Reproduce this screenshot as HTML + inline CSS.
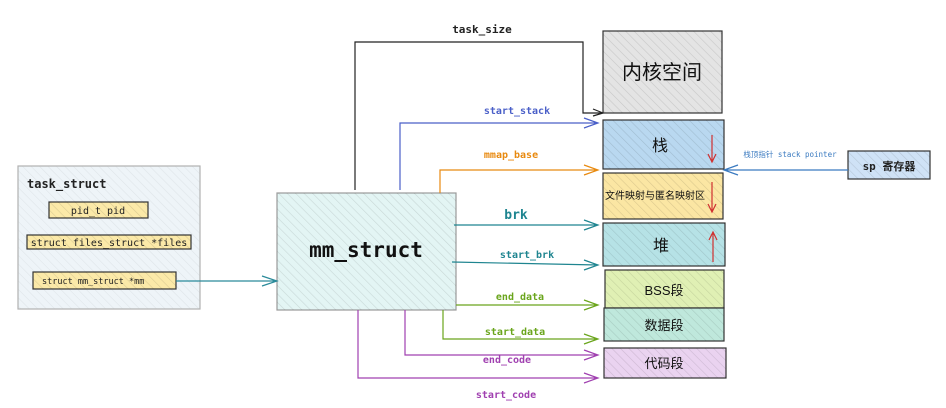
<!DOCTYPE html>
<html><head><meta charset="utf-8"><style>body{margin:0;background:#fff}svg{display:block}</style></head><body>
<svg width="946" height="408" xmlns="http://www.w3.org/2000/svg" font-family="'DejaVu Sans Mono','Liberation Mono','Noto Sans CJK SC',monospace">
<defs>
<pattern id="h" width="6" height="6" patternUnits="userSpaceOnUse" patternTransform="rotate(-45)"><line x1="0" y1="0" x2="0" y2="6" stroke="#000" stroke-width="1.2"/></pattern>
</defs>
<g stroke="#333" stroke-width="1.2">
<rect x="18" y="166" width="182" height="143" fill="#eef4f8" stroke="#bbb"/>
<rect x="18" y="166" width="182" height="143" fill="url(#h)" opacity="0.06"/>
<rect x="49" y="202" width="99" height="16" fill="#fbe9a8"/>
<rect x="27" y="235" width="164" height="14" fill="#fbe9a8"/>
<rect x="33" y="272" width="143" height="17" fill="#fbe9a8"/>
<rect x="277" y="193" width="179" height="117" fill="#e3f5f4" stroke="#999"/>
<rect x="603" y="31" width="119" height="82" fill="#e4e4e4"/>
<rect x="603" y="120" width="121" height="49" fill="#b9d8f0"/>
<rect x="603" y="173" width="120" height="46" fill="#fbe6a3"/>
<rect x="603" y="223" width="122" height="43" fill="#b6e2e6"/>
<rect x="605" y="270" width="119" height="38" fill="#e0f0b4"/>
<rect x="604" y="308" width="120" height="33" fill="#bfe8dc"/>
<rect x="604" y="348" width="122" height="30" fill="#ead3f0"/>
<rect x="848" y="151" width="82" height="28" fill="#cfe2f6"/>
</g>
<g fill="url(#h)" opacity="0.12">
<rect x="49" y="202" width="99" height="16"/><rect x="27" y="235" width="164" height="14"/><rect x="33" y="272" width="143" height="17"/>
<rect x="277" y="193" width="179" height="117"/><rect x="603" y="31" width="119" height="82"/><rect x="603" y="120" width="121" height="49"/>
<rect x="603" y="173" width="120" height="46"/><rect x="603" y="223" width="122" height="43"/><rect x="605" y="270" width="119" height="38"/>
<rect x="604" y="308" width="120" height="33"/><rect x="604" y="348" width="122" height="30"/><rect x="848" y="151" width="82" height="28"/>
</g>
<g fill="none" stroke-width="1.2">
<path d="M176 281H277M262 276l15 5-15 5" stroke="#2a8a9a"/>
<path d="M355 190V42H583V113H603M593 109l10 4-10 3" stroke="#222"/>
<path d="M400 190V123H598M584 118l14 5-14 5" stroke="#4a5fc8"/>
<path d="M440 193V170H598M584 165l14 5-14 5" stroke="#e88a10"/>
<path d="M454 225H598M584 220l14 5-14 5" stroke="#1f8590"/>
<path d="M452 262L598 265M584 260l14 5-14 5" stroke="#1f8590"/>
<path d="M456 305H598M584 300l14 5-14 5" stroke="#6aa51c"/>
<path d="M443 310V339H598M584 334l14 5-14 5" stroke="#6aa51c"/>
<path d="M405 310V355H598M584 350l14 5-14 5" stroke="#a040b0"/>
<path d="M358 310V378H598M584 373l14 5-14 5" stroke="#a040b0"/>
<path d="M848 170H724M738 165l-14 5 14 5" stroke="#3a7ac0"/>
<path d="M712 135V162M708 154l4 8 4-8M712 182V212M708 204l4 8 4-8M713 262V232M709 240l4-8 4 8" stroke="#d03030"/>
</g>
<g font-weight="bold">
<text x="27" y="188" font-size="12" fill="#222">task_struct</text>
<text x="98" y="214" font-size="10" text-anchor="middle" fill="#222" font-weight="normal">pid_t  pid</text>
<text x="109" y="246" font-size="10" text-anchor="middle" fill="#222" font-weight="normal">struct files_struct *files</text>
<text x="42" y="284" font-size="8.5" fill="#222" font-weight="normal">struct mm_struct    *mm</text>
<text x="366" y="257" font-size="21" text-anchor="middle" fill="#111">mm_struct</text>
<text x="482" y="33" font-size="11" text-anchor="middle" fill="#222">task_size</text>
<text x="517" y="114" font-size="10" text-anchor="middle" fill="#4a5fc8">start_stack</text>
<text x="511" y="158" font-size="10" text-anchor="middle" fill="#e88a10">mmap_base</text>
<text x="516" y="219" font-size="13" text-anchor="middle" fill="#1f8590">brk</text>
<text x="527" y="258" font-size="10" text-anchor="middle" fill="#1f8590">start_brk</text>
<text x="520" y="300" font-size="10" text-anchor="middle" fill="#6aa51c">end_data</text>
<text x="515" y="335" font-size="10" text-anchor="middle" fill="#6aa51c">start_data</text>
<text x="507" y="363" font-size="10" text-anchor="middle" fill="#a040b0">end_code</text>
<text x="506" y="398" font-size="10" text-anchor="middle" fill="#a040b0">start_code</text>
<text x="790" y="157" font-size="7.5" text-anchor="middle" fill="#3a7ac0" font-weight="normal">栈顶指针 stack pointer</text>
<text x="889" y="170" font-size="11" text-anchor="middle" fill="#222">sp 寄存器</text>
</g>
<g font-family="'Liberation Sans','Noto Sans CJK SC',sans-serif" fill="#111" text-anchor="middle">
<text x="662" y="79" font-size="20">内核空间</text>
<text x="660" y="151" font-size="16">栈</text>
<text x="655" y="199" font-size="10">文件映射与匿名映射区</text>
<text x="661" y="251" font-size="16">堆</text>
<text x="664" y="295" font-size="13">BSS段</text>
<text x="664" y="330" font-size="13">数据段</text>
<text x="664" y="368" font-size="13">代码段</text>
</g>
</svg>
</body></html>
